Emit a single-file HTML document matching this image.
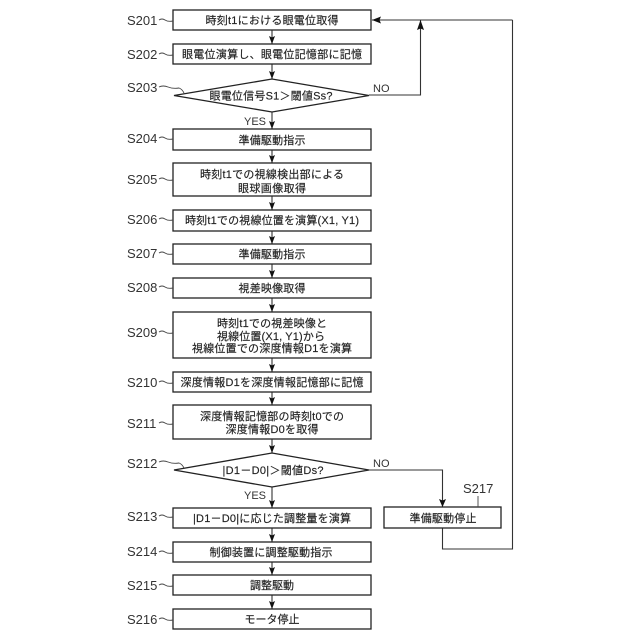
<!DOCTYPE html>
<html><head><meta charset="utf-8"><style>
html,body{margin:0;padding:0;background:#fff}
svg{display:block}
.j{font-family:"Liberation Sans","Noto Sans CJK JP",sans-serif;font-size:11px;fill:#222;stroke:#222;stroke-width:.15;text-anchor:middle}
.l{font-family:"Liberation Sans",sans-serif;font-size:13px;fill:#333}
.s{font-family:"Liberation Sans",sans-serif;font-size:11px;fill:#333}
.b{fill:#fff;stroke:#222;stroke-width:1.3}
.c{fill:none;stroke:#333;stroke-width:1.1}
.a{fill:#111}
.t{fill:none;stroke:#444;stroke-width:.9}
</style></head><body>
<svg width="640" height="640" viewBox="0 0 640 640" xmlns="http://www.w3.org/2000/svg">
<!-- connectors -->
<path class="c" d="M272 30V44M272 64V79M272 112V129M272 150V163M272 196V210M272 231V244M272 264V278M272 298V312M272 358V372M272 392V405M272 439V453M272 487V508M272 528V542M272 562V575M272 595V609"/>
<path class="c" d="M369 95H420.5V20M512.5 20V549H442.5V528M512.5 20H372M369 470H442.5V507"/>
<!-- arrowheads -->
<g class="a">
<path d="M269 36l3 1.500l3-1.500l-3 8zM269 71l3 1.500l3-1.500l-3 8zM269 121l3 1.500l3-1.500l-3 8zM269 155l3 1.500l3-1.500l-3 8zM269 202l3 1.500l3-1.500l-3 8zM269 236l3 1.500l3-1.500l-3 8zM269 270l3 1.500l3-1.500l-3 8zM269 304l3 1.500l3-1.500l-3 8zM269 364l3 1.500l3-1.500l-3 8zM269 397l3 1.500l3-1.500l-3 8zM269 445l3 1.500l3-1.500l-3 8zM269 500l3 1.500l3-1.500l-3 8zM269 534l3 1.500l3-1.500l-3 8zM269 567l3 1.500l3-1.500l-3 8zM269 601l3 1.500l3-1.500l-3 8z"/>
<path d="M439 499l3.500 1.500l3.500-1.500l-3.500 8z"/>
<path d="M417 30l3.500-1.500l3.500 1.500l-3.500-10z"/>
<path d="M372 20l9-3.500l-1.500 3.500l1.500 3.500z"/>
</g>
<!-- boxes -->
<rect class="b" x="173" y="10" width="198" height="20"/>
<rect class="b" x="173" y="44" width="198" height="20"/>
<path class="b" d="M174 95.500L272 79L369 95.500L272 112Z"/>
<rect class="b" x="173" y="129" width="198" height="21"/>
<rect class="b" x="173" y="163" width="198" height="33"/>
<rect class="b" x="173" y="210" width="198" height="21"/>
<rect class="b" x="173" y="244" width="198" height="20"/>
<rect class="b" x="173" y="278" width="198" height="20"/>
<rect class="b" x="173" y="312" width="198" height="46"/>
<rect class="b" x="173" y="372" width="198" height="20"/>
<rect class="b" x="173" y="405" width="198" height="34"/>
<path class="b" d="M174 470L272 453L369 470L272 487Z"/>
<rect class="b" x="173" y="508" width="198" height="20"/>
<rect class="b" x="173" y="542" width="198" height="20"/>
<rect class="b" x="173" y="575" width="198" height="20"/>
<rect class="b" x="173" y="609" width="198" height="20"/>
<rect class="b" x="384" y="507" width="117" height="21"/>
<!-- box text -->
<text class="j" x="272" y="24" textLength="133">時刻t1における眼電位取得</text>
<text class="j" x="272" y="58" textLength="180">眼電位演算し、眼電位記憶部に記憶</text>
<text class="j" x="271" y="99.500" textLength="123">眼電位信号S1＞閾値Ss?</text>
<text class="j" x="272" y="144" textLength="67">準備駆動指示</text>
<text class="j" x="272" y="178" textLength="144">時刻t1での視線検出部による</text>
<text class="j" x="272" y="192" textLength="68">眼球画像取得</text>
<text class="j" x="272" y="224" textLength="174">時刻t1での視線位置を演算(X1, Y1)</text>
<text class="j" x="272" y="258" textLength="67">準備駆動指示</text>
<text class="j" x="272" y="292" textLength="67">視差映像取得</text>
<text class="j" x="272" y="327" textLength="110">時刻t1での視差映像と</text>
<text class="j" x="271" y="340" textLength="108">視線位置(X1, Y1)から</text>
<text class="j" x="272" y="352" textLength="160">視線位置での深度情報D1を演算</text>
<text class="j" x="272" y="386" textLength="183">深度情報D1を深度情報記憶部に記憶</text>
<text class="j" x="272" y="420" textLength="144">深度情報記憶部の時刻t0での</text>
<text class="j" x="272" y="433" textLength="93">深度情報D0を取得</text>
<text class="j" x="273" y="474" textLength="101">|D1－D0|＞閾値Ds?</text>
<text class="j" x="272" y="522" textLength="158">|D1－D0|に応じた調整量を演算</text>
<text class="j" x="271" y="556" textLength="123">制御装置に調整駆動指示</text>
<text class="j" x="272" y="589" textLength="44">調整駆動</text>
<text class="j" x="272" y="623" textLength="55">モータ停止</text>
<text class="j" x="443" y="522" textLength="67">準備駆動停止</text>
<!-- step labels -->
<g class="l">
<text x="127" y="25">S201</text>
<text x="127" y="59">S202</text>
<text x="127" y="92">S203</text>
<text x="127" y="143">S204</text>
<text x="127" y="184">S205</text>
<text x="127" y="224">S206</text>
<text x="127" y="258">S207</text>
<text x="127" y="292">S208</text>
<text x="127" y="337">S209</text>
<text x="127" y="387">S210</text>
<text x="127" y="428">S211</text>
<text x="127" y="468">S212</text>
<text x="127" y="521">S213</text>
<text x="127" y="556">S214</text>
<text x="127" y="590">S215</text>
<text x="127" y="624">S216</text>
<text x="463" y="493">S217</text>
</g>
<!-- leaders -->
<path class="t" d="M159 20q3-2 6 0t8 1M159 54q3-2 6 0t8 1M159 138q3-2 6 0t8 1M159 179q3-2 6 0t8 1M159 219q3-2 6 0t8 1M159 253q3-2 6 0t8 1M159 287q3-2 6 0t8 1M159 332q3-2 6 0t8 1M159 382q3-2 6 0t8 1M159 423q3-2 6 0t8 1M159 516q3-2 6 0t8 1M159 552q3-2 6 0t8 1M159 585q3-2 6 0t8 1M159 619q3-2 6 0t8 1"/>
<path class="t" d="M159 87q4-2 9 0t11 1q3 1 5 5M159 462q4-2 9 0t11 1q3 1 5 5M478 496v11"/>
<!-- branch labels -->
<text class="s" x="373" y="92">NO</text>
<text class="s" x="373" y="467">NO</text>
<text class="s" x="244" y="125">YES</text>
<text class="s" x="244" y="499">YES</text>
</svg>
</body></html>
